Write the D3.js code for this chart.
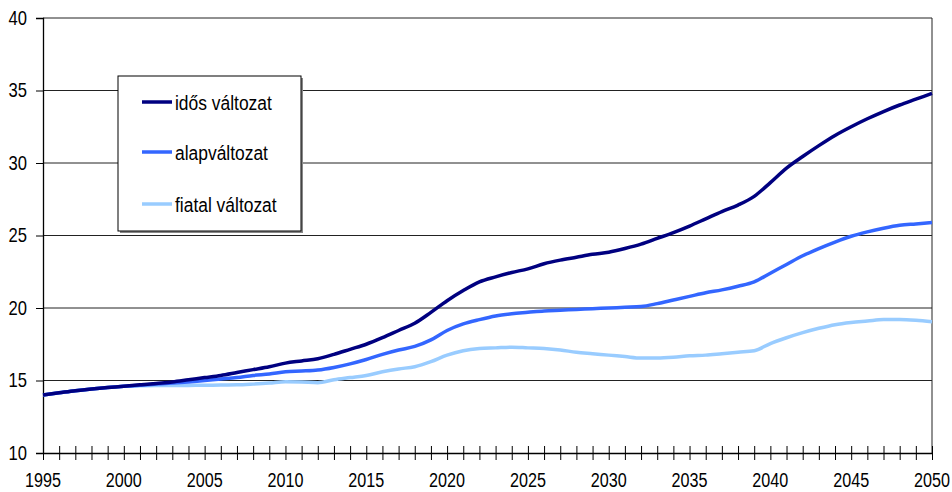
<!DOCTYPE html>
<html>
<head>
<meta charset="utf-8">
<script src="https://cdn.jsdelivr.net/npm/d3@7"></script>
<style>
  body { margin: 0; background: #fff; }
  svg text { font-family: "Liberation Sans", Arial, sans-serif; fill: #000; }
</style>
</head>
<body>
<svg id="chart" width="952" height="492"></svg>
<script>
const years = d3.range(1995, 2051)

const idos = [14.0, 14.15, 14.3, 14.42, 14.52, 14.6, 14.7, 14.8, 14.9, 15.05,
  15.2, 15.35, 15.55, 15.75, 15.95, 16.2, 16.35, 16.5, 16.8, 17.15,
  17.5, 17.95, 18.45, 18.95, 19.7, 20.5, 21.2, 21.8, 22.15, 22.45,
  22.7, 23.05, 23.3, 23.5, 23.7, 23.85, 24.1, 24.4, 24.8, 25.2,
  25.65, 26.15, 26.65, 27.1, 27.7, 28.65, 29.65, 30.45, 31.2, 31.9,
  32.5, 33.05, 33.55, 34.0, 34.4, 34.8]

const alap = [14.0, 14.15, 14.3, 14.42, 14.52, 14.6, 14.68, 14.75, 14.82, 14.9,
  15.0, 15.1, 15.2, 15.35, 15.45, 15.6, 15.65, 15.72, 15.9, 16.15,
  16.45, 16.8, 17.1, 17.35, 17.8, 18.45, 18.9, 19.2, 19.45, 19.6,
  19.7, 19.8, 19.85, 19.9, 19.95, 20.0, 20.05, 20.1, 20.3, 20.55,
  20.8, 21.05, 21.25, 21.5, 21.8, 22.4, 23.0, 23.6, 24.1, 24.55,
  24.95, 25.25, 25.5, 25.7, 25.8, 25.9]

const fiatal = [14.0, 14.15, 14.3, 14.42, 14.52, 14.6, 14.63, 14.65, 14.65, 14.66,
  14.67, 14.69, 14.7, 14.75, 14.82, 14.92, 14.9, 14.85, 15.05, 15.2,
  15.35, 15.6, 15.8, 15.95, 16.3, 16.75, 17.05, 17.2, 17.25, 17.3,
  17.25, 17.2, 17.1, 16.95, 16.85, 16.75, 16.65, 16.55, 16.55, 16.6,
  16.7, 16.75, 16.85, 16.95, 17.05, 17.55, 17.95, 18.3, 18.6, 18.85,
  19.0, 19.1, 19.2, 19.2, 19.15, 19.05]

const series_names = ["idős változat", "alapváltozat", "fiatal változat"]
const series_colors = ["#000080", "#3366FF", "#99CCFF"]
const y_ticks = [10, 15, 20, 25, 30, 35, 40]
const x_labels = [1995, 2000, 2005, 2010, 2015, 2020, 2025, 2030, 2035, 2040, 2045, 2050]

const svg = d3.select("#chart")
const plot_left = 43, plot_right = 932, plot_top = 18, plot_bottom = 453
const narrow = 0.83 // the original font is a narrow sans

const x = d3.scaleLinear().domain([1995, 2050]).range([plot_left, plot_right])
const y = d3.scaleLinear().domain([10, 40]).range([plot_bottom, plot_top])

// gridlines
svg.append("g")
  .selectAll("line")
  .data(y_ticks.slice(1))
  .enter()
  .append("line")
  .attr("x1", plot_left).attr("x2", plot_right)
  .attr("y1", d => y(d)).attr("y2", d => y(d))
  .attr("stroke", "#222").attr("stroke-width", 1)

// right border
svg.append("line")
  .attr("x1", plot_right).attr("x2", plot_right)
  .attr("y1", plot_top).attr("y2", plot_bottom)
  .attr("stroke", "#222").attr("stroke-width", 1)

// y axis
const yAxis = svg.append("g")
  .attr("transform", `translate(${plot_left},0)`)
  .call(d3.axisLeft(y).tickValues(y_ticks).tickSize(7).tickPadding(9))
yAxis.select(".domain").attr("stroke", "#000").attr("stroke-width", 1.3)
yAxis.selectAll(".tick line").attr("stroke", "#000")
yAxis.selectAll("text")
  .attr("font-size", 20)
  .attr("font-family", null)
  .attr("x", 0)
  .attr("transform", `translate(-16,0) scale(${narrow},1)`)

// x axis: ticks crossing the axis line every year
const xAxis = svg.append("g")
  .attr("transform", `translate(0,${plot_bottom})`)
  .call(d3.axisBottom(x).tickValues(years).tickSizeInner(7).tickSizeOuter(0).tickFormat(""))
xAxis.select(".domain").attr("stroke", "#000").attr("stroke-width", 1.3)
xAxis.selectAll(".tick line").attr("y1", -7).attr("stroke", "#000")

svg.append("g")
  .selectAll("text")
  .data(x_labels)
  .enter()
  .append("text")
  .attr("transform", d => `translate(${x(d)},487) scale(${narrow},1)`)
  .attr("text-anchor", "middle")
  .attr("font-size", 19.5)
  .text(d => d)

// lines
const all_series = [idos, alap, fiatal]
const line = d3.line()
  .x((d, i) => x(years[i]))
  .y(d => y(d))
  .curve(d3.curveMonotoneX)

// draw light first so dark stays on top
for (let k = all_series.length - 1; k >= 0; k--) {
  svg.append("path")
    .datum(all_series[k])
    .attr("fill", "none")
    .attr("stroke", series_colors[k])
    .attr("stroke-width", 3.5)
    .attr("stroke-linejoin", "round")
    .attr("d", line)
}

// legend
const legend = svg.append("g")
legend.append("rect")
  .attr("x", 120).attr("y", 78).attr("width", 183).attr("height", 155)
  .attr("fill", "#888")
legend.append("rect")
  .attr("x", 118).attr("y", 76).attr("width", 183).attr("height", 155)
  .attr("fill", "#fff").attr("stroke", "#000").attr("stroke-width", 1)

const legend_item = legend.selectAll(".legend-item")
  .data(series_names)
  .enter()
  .append("g")
  .attr("class", "legend-item")
  .attr("transform", (d, i) => `translate(0,${[102, 152, 204][i]})`)
legend_item.append("line")
  .attr("x1", 142).attr("x2", 172)
  .attr("stroke", (d, i) => series_colors[i])
  .attr("stroke-width", 3.5)
legend_item.append("text")
  .attr("transform", `translate(175,0) scale(${narrow},1)`)
  .attr("dy", "0.36em")
  .attr("font-size", 21)
  .text(d => d)
</script>
</body>
</html>
